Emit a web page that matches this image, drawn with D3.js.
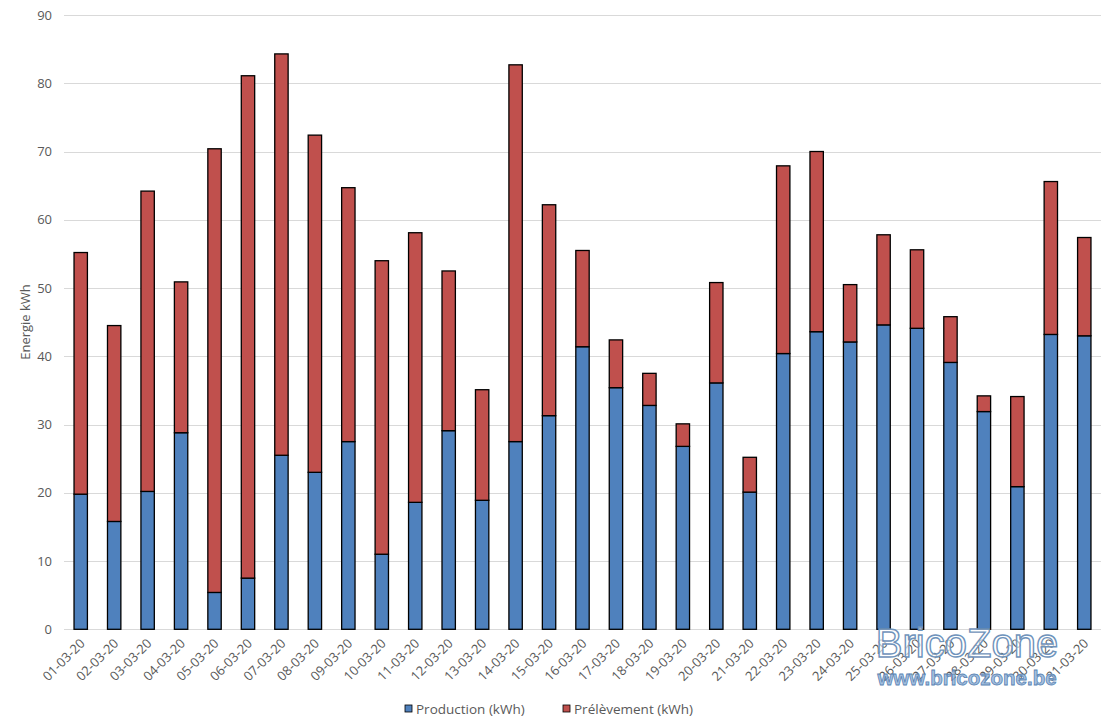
<!DOCTYPE html>
<html>
<head>
<meta charset="utf-8">
<script src="https://cdn.jsdelivr.net/npm/d3@7"></script>
<style>
  body { margin: 0; background: #fff; }
  text { font-family: "Open Sans", "Noto Sans", sans-serif; }
</style>
</head>
<body>
<svg id="svg" width="1112" height="721"></svg>
<script>
const days = ['01-03-20', '02-03-20', '03-03-20', '04-03-20', '05-03-20', '06-03-20', '07-03-20', '08-03-20',
  '09-03-20', '10-03-20', '11-03-20', '12-03-20', '13-03-20', '14-03-20', '15-03-20', '16-03-20',
  '17-03-20', '18-03-20', '19-03-20', '20-03-20', '21-03-20', '22-03-20', '23-03-20', '24-03-20',
  '25-03-20', '26-03-20', '27-03-20', '28-03-20', '29-03-20', '30-03-20', '31-03-20']

const production = [19.8, 15.8, 20.2, 28.8, 5.4, 7.5, 25.5, 23.0, 27.5, 11.0, 18.6, 29.1, 18.9, 27.5, 31.3, 41.4,
  35.4, 32.8, 26.8, 36.1, 20.1, 40.4, 43.6, 42.1, 44.6, 44.1, 39.1, 31.9, 20.9, 43.2, 43.0]

const prelevement = [35.4, 28.7, 44.0, 22.1, 65.0, 73.6, 58.8, 49.4, 37.2, 43.0, 39.5, 23.4, 16.2, 55.2, 30.9, 14.1,
  7.0, 4.7, 3.3, 14.7, 5.1, 27.5, 26.4, 8.4, 13.2, 11.5, 6.7, 2.3, 13.2, 22.4, 14.4]

const seriesNames = ['Production (kWh)', 'Prélèvement (kWh)']
const colours = ['#4f81bd', '#c0504d']
const yTicks = [0, 10, 20, 30, 40, 50, 60, 70, 80, 90]

const rows = days.map((d, i) => ({ day: d, prod: production[i], prel: prelevement[i] }))

const margin = { left: 64, right: 11, top: 15, bottom: 92 }
const width = 1112

const svg = d3.select('#svg')

const x = d3.scaleBand()
  .domain(days)
  .range([margin.left, width - margin.right])
  .paddingInner(0.6)
  .paddingOuter(0.3)

const y = d3.scaleLinear()
  .domain([0, 90])
  .range([629.3, margin.top])

// gridlines
svg.append('g')
  .selectAll('line')
  .data(yTicks)
  .join('line')
  .attr('x1', margin.left)
  .attr('x2', width - margin.right)
  .attr('y1', d => Math.round(y(d)) + 0.5)
  .attr('y2', d => Math.round(y(d)) + 0.5)
  .attr('stroke', '#d9d9d9')
  .attr('stroke-width', 1)

// y axis labels
const yAxis = svg.append('g')
  .attr('transform', `translate(${margin.left}, 0)`)
  .call(d3.axisLeft(y).tickValues(yTicks).tickSize(0).tickPadding(12))
yAxis.select('.domain').remove()
yAxis.selectAll('text')
  .style('font-size', '13px')
  .attr('fill', '#595959')

svg.append('text')
  .attr('transform', 'translate(30, 322) rotate(-90)')
  .attr('text-anchor', 'middle')
  .style('font-size', '13px')
  .attr('fill', '#595959')
  .text('Energie kWh')

// stacked bars
const stack = d3.stack().keys(['prod', 'prel'])
const layers = stack(rows)

svg.append('g')
  .selectAll('g')
  .data(layers)
  .join('g')
  .attr('fill', (d, i) => colours[i])
  .selectAll('rect')
  .data(d => d)
  .join('rect')
  .attr('x', d => x(d.data.day))
  .attr('y', d => y(d[1]))
  .attr('width', x.bandwidth())
  .attr('height', d => y(d[0]) - y(d[1]))
  .attr('stroke', '#000')
  .attr('stroke-width', 1.3)

// x axis labels
const xAxis = svg.append('g')
  .attr('transform', 'translate(0, 629.3)')
  .call(d3.axisBottom(x).tickSize(0).tickPadding(0))
xAxis.select('.domain').remove()
xAxis.selectAll('text')
  .attr('text-anchor', 'end')
  .attr('dy', null)
  .attr('y', 0)
  .attr('transform', 'translate(5, 15) rotate(-45)')
  .style('font-size', '13px')
  .attr('fill', '#595959')

// legend
const legendX = [405, 563]
const legend = svg.append('g')
  .selectAll('g')
  .data(seriesNames)
  .join('g')
  .attr('transform', (d, i) => `translate(${legendX[i]}, 705)`)
legend.append('rect')
  .attr('width', 7)
  .attr('height', 7)
  .attr('fill', (d, i) => colours[i])
  .attr('stroke', '#000')
  .attr('stroke-width', 0.8)
legend.append('text')
  .attr('x', 11)
  .attr('y', 8.5)
  .style('font-size', '13.5px')
  .attr('fill', '#595959')
  .text(d => d)

// watermark
svg.append('text')
  .attr('x', 967)
  .attr('y', 657)
  .attr('text-anchor', 'middle')
  .style('font-family', '"Liberation Sans", Arial, sans-serif')
  .style('font-size', '40px')
  .attr('fill', 'rgba(255,255,255,0.6)')
  .attr('stroke', '#6f93bb')
  .attr('stroke-width', 1.4)
  .text('BricoZone')
svg.append('text')
  .attr('x', 967)
  .attr('y', 685)
  .attr('text-anchor', 'middle')
  .style('font-family', '"Liberation Sans", Arial, sans-serif')
  .style('font-size', '20.5px')
  .style('font-weight', 'bold')
  .attr('fill', 'rgba(140,175,215,0.8)')
  .attr('stroke', '#5a84b4')
  .attr('stroke-width', 0.8)
  .text('www.bricozone.be')
</script>
</body>
</html>
